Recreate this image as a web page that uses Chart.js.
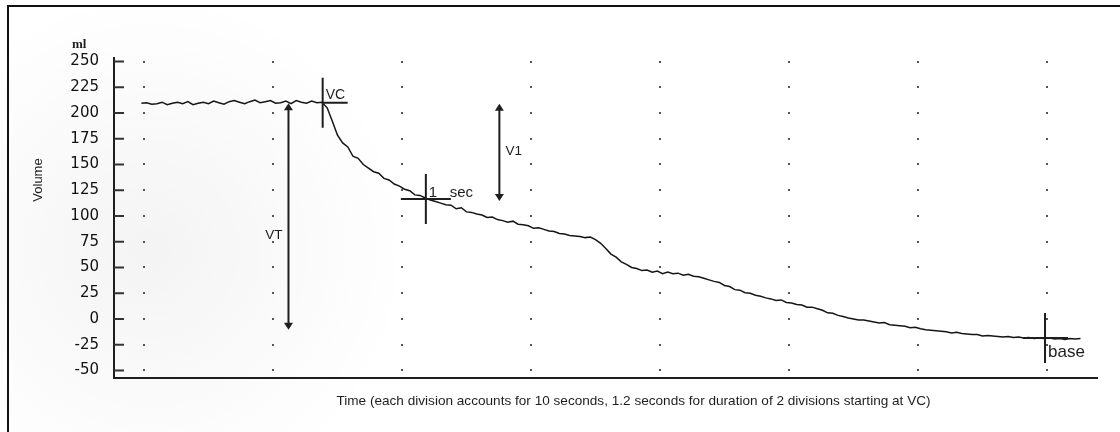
<!DOCTYPE html>
<html>
<head>
<meta charset="utf-8">
<script src="https://cdn.jsdelivr.net/npm/chart.js@4.4.1/dist/chart.umd.min.js"></script>
<style>
  html, body { margin: 0; padding: 0; background: #fff; }
  #wrap { width: 1120px; height: 432px; }
</style>
</head>
<body>
<div id="wrap"><canvas id="spiro" width="1120" height="432"></canvas></div>
<script>
// trace is sampled every traceStep seconds from traceStart
const traceStart = 9.8;
const traceStep = 0.4;
const volumes = [
    209.5, 210, 208.5, 209, 210.5, 208, 209.5, 210.5, 209, 211,
    208, 209.5, 210.5, 209, 211.5, 210, 208.5, 211, 212, 210.5,
    209, 211, 212.5, 210, 211, 212, 209.5, 210, 211.5, 209,
    212, 210.5, 209.5, 211.5, 210, 210.5,
    205, 192, 178.5, 171,
    167, 158, 156, 150, 146.5, 143, 141.5, 136.5, 135, 131,
    129, 126, 124.5, 120.5, 120, 117.5, 115.5, 114, 112.5, 111,
    110.5, 107, 108, 104, 103.5, 102, 101, 98.5, 99, 96.5,
    95.5, 94, 95, 92, 91.5, 90.5, 88, 88.5, 87, 85.5,
    85, 83, 82.5, 81, 80.5, 80, 79, 79.5, 77, 73.5,
    68.5, 63, 60, 55.5, 53, 50, 49, 47, 47.5, 45.5,
    46.5, 44, 45.5, 44, 44.5, 42.5, 43.5, 41.5, 41, 39.5,
    38, 36.5, 35.5, 32.5, 31.5, 28.5, 28, 25.5, 25, 23,
    22, 20.5, 19.5, 18, 18.5, 16, 15.5, 14, 13.5, 11.5,
    11.5, 10, 8.5, 6, 5.5, 3.5, 2.5, 1, 0, -1,
    -1, -2, -3, -4, -3.5, -5.5, -6, -6.5, -7, -8.5,
    -8, -9.5, -10.5, -11, -11.5, -12, -12.5, -13.5, -13, -14,
    -14.5, -15, -15, -16.5, -16, -16.5, -17, -17.5, -17, -18,
    -17.5, -18.5, -18, -19, -18.5, -19, -18.5, -19.5, -19, -20,
    -19, -19.5, -19
];

const yTicks = [250, 225, 200, 175, 150, 125, 100, 75, 50, 25, 0, -25, -50];
const xDivisions = [10, 20, 30, 40, 50, 60, 70, 80];

// cross markers on the trace
const markerNames = ['VC', '1   sec', 'base'];
const markerTimes = [23.85, 31.85, 79.85];
const markerVolumes = [210, 116.5, -18.5];

// double headed arrows
const arrowNames = ['VT', 'V1'];
const arrowTimes = [21.2, 37.55];
const arrowTops = [209.5, 209];
const arrowBottoms = [-10.5, 114.5];
const arrowLabelVolumes = [81, 163];

const yUnit = 'ml';
const yTitle = 'Volume';
const xTitle = 'Time (each division accounts for 10 seconds, 1.2 seconds for duration of 2 divisions starting at VC)';

const ink = '#1e1e1e';
const sans = '"Liberation Sans", Arial, sans-serif';

const points = volumes.map((v, i) => ({ x: traceStart + i * traceStep, y: v }));

function arrowHead(ctx, x, y, dir) {
    ctx.beginPath();
    ctx.moveTo(x, y);
    ctx.lineTo(x - 4.5, y - dir * 7);
    ctx.lineTo(x + 4.5, y - dir * 7);
    ctx.closePath();
    ctx.fill();
}

const traceDecor = {
    id: 'traceDecor',
    beforeDraw(chart) {
        const ctx = chart.ctx;
        ctx.save();
        ctx.fillStyle = '#fff';
        ctx.fillRect(0, 0, chart.width, chart.height);
        // faint scan shading on the left side
        const g = ctx.createRadialGradient(150, 250, 10, 150, 250, 260);
        g.addColorStop(0, 'rgba(0,0,0,0.045)');
        g.addColorStop(1, 'rgba(0,0,0,0)');
        ctx.fillStyle = g;
        ctx.fillRect(0, 0, chart.width, chart.height);
        // frame
        ctx.strokeStyle = '#111';
        ctx.lineWidth = 2;
        ctx.beginPath();
        ctx.moveTo(8, chart.height + 5);
        ctx.lineTo(8, 6);
        ctx.lineTo(chart.width + 5, 6);
        ctx.stroke();
        ctx.restore();
    },
    beforeDatasetsDraw(chart) {
        const ctx = chart.ctx;
        const xs = chart.scales.x, ys = chart.scales.y;
        ctx.save();
        // dot grid
        ctx.fillStyle = '#555';
        xDivisions.forEach(t => {
            const px = Math.round(xs.getPixelForValue(t));
            yTicks.forEach(v => {
                const py = Math.round(ys.getPixelForValue(v));
                ctx.fillRect(px - 1, py - 1, 2, 2);
            });
        });
        // tick marks pointing into the plot
        ctx.strokeStyle = '#333';
        ctx.lineWidth = 2;
        yTicks.forEach(v => {
            const py = ys.getPixelForValue(v);
            ctx.beginPath();
            ctx.moveTo(xs.left, py);
            ctx.lineTo(xs.left + 10, py);
            ctx.stroke();
        });
        ctx.restore();
    },
    afterDatasetsDraw(chart) {
        const ctx = chart.ctx;
        const xs = chart.scales.x, ys = chart.scales.y;
        const area = chart.chartArea;
        ctx.save();
        ctx.strokeStyle = ink;
        ctx.fillStyle = ink;
        ctx.lineWidth = 2;

        // crosses
        markerNames.forEach((name, i) => {
            const cx = xs.getPixelForValue(markerTimes[i]);
            const cy = ys.getPixelForValue(markerVolumes[i]);
            const left = i === 0 ? 0 : (i === 2 ? 22 : 25);
            const right = i === 2 ? 23 : 25;
            ctx.beginPath();
            ctx.moveTo(cx, cy - 25);
            ctx.lineTo(cx, cy + 25);
            ctx.moveTo(cx - left, cy);
            ctx.lineTo(cx + right, cy);
            ctx.stroke();
            ctx.textAlign = 'left';
            ctx.textBaseline = 'alphabetic';
            if (i === 0) {
                ctx.font = '14px ' + sans;
                ctx.fillText(name, cx + 3, cy - 4);
            } else if (i === 1) {
                ctx.font = '15px ' + sans;
                ctx.fillText(name, cx + 3, cy - 2);
            } else {
                ctx.font = '17px ' + sans;
                ctx.fillText(name, cx + 3, cy + 19);
            }
        });

        // arrows
        arrowNames.forEach((name, i) => {
            const ax = xs.getPixelForValue(arrowTimes[i]);
            const top = ys.getPixelForValue(arrowTops[i]);
            const bottom = ys.getPixelForValue(arrowBottoms[i]);
            ctx.beginPath();
            ctx.moveTo(ax, top + 4);
            ctx.lineTo(ax, bottom - 4);
            ctx.stroke();
            arrowHead(ctx, ax, top, -1);
            arrowHead(ctx, ax, bottom, 1);
            ctx.font = '13.5px ' + sans;
            ctx.textBaseline = 'middle';
            const ly = ys.getPixelForValue(arrowLabelVolumes[i]);
            if (i === 0) {
                ctx.textAlign = 'right';
                ctx.fillText(name, ax - 6, ly);
            } else {
                ctx.textAlign = 'left';
                ctx.fillText(name, ax + 6, ly);
            }
        });

        // axis texts
        ctx.font = 'bold 13px "Liberation Serif", serif';
        ctx.textAlign = 'left';
        ctx.textBaseline = 'alphabetic';
        ctx.fillText(yUnit, 72, area.top - 10);

        ctx.font = '13.6px ' + sans;
        ctx.textAlign = 'center';
        ctx.textBaseline = 'middle';
        ctx.fillText(xTitle, (area.left + area.right) / 2 + 28, area.bottom + 23);

        ctx.font = '13px ' + sans;
        ctx.translate(38, 180);
        ctx.rotate(-Math.PI / 2);
        ctx.fillText(yTitle, 0, 0);
        ctx.restore();
    }
};

new Chart(document.getElementById('spiro'), {
    type: 'line',
    data: {
        datasets: [{
            data: points,
            borderColor: '#151515',
            borderWidth: 1.5,
            pointRadius: 0,
            tension: 0,
            fill: false
        }]
    },
    options: {
        responsive: false,
        animation: false,
        events: [],
        layout: { padding: { left: 0, top: 58, right: 23, bottom: 54 } },
        plugins: {
            legend: { display: false },
            tooltip: { enabled: false }
        },
        scales: {
            x: {
                type: 'linear',
                min: 7.674,
                max: 83.88,
                grid: { display: false, drawTicks: false },
                border: { display: true, color: ink, width: 2 },
                ticks: { display: false },
                afterFit: s => { s.height = 0; }
            },
            y: {
                min: -57.3,
                max: 253.4,
                grid: { display: false, drawTicks: false },
                border: { display: true, color: ink, width: 2 },
                afterBuildTicks: s => { s.ticks = yTicks.map(v => ({ value: v })); },
                ticks: {
                    padding: 15,
                    color: '#111',
                    font: { family: '"DejaVu Sans", sans-serif', size: 15 }
                },
                afterFit: s => { s.width = 114; }
            }
        }
    },
    plugins: [traceDecor]
});
</script>
</body>
</html>
